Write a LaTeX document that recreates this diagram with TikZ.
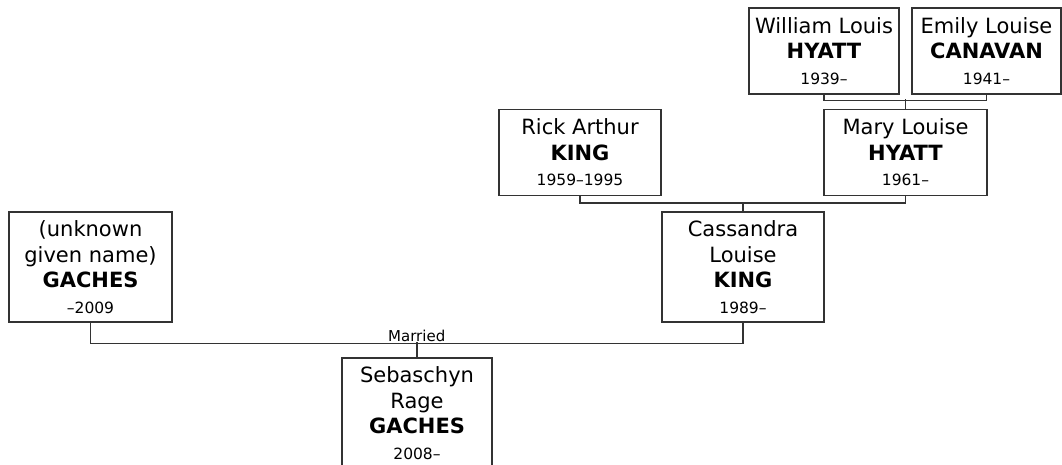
\documentclass[tikz,border=0pt]{standalone}
\usepackage{fontspec}
\setmainfont{DejaVu Sans}
\usepackage{tikz}
\usetikzlibrary{positioning}

\newcommand{\yrs}[1]{{\fontsize{15.5}{19}\selectfont #1}}

\begin{document}
\begin{tikzpicture}[x=1pt, y=-1pt,
  person/.style={draw=black!80, line width=1.1pt, minimum width=162pt, minimum height=86pt, align=center, inner sep=2pt, font=\fontsize{21}{25.5}\selectfont},
  tall/.style={person, minimum height=110pt},
  link/.style={draw=black!80, line width=1.3pt}
]
\useasboundingbox (0,0) rectangle (1062,464);

% grandparents
\node[person, minimum width=150pt] (william) at (824,51) {William Louis\\\textbf{HYATT}\\\yrs{1939--}};
\node[person, minimum width=149pt] (emily) at (986.5,51) {Emily Louise\\\textbf{CANAVAN}\\\yrs{1941--}};

% parents
\node[person, minimum width=163pt] (mary) at (905.5,152.5) {Mary Louise\\\textbf{HYATT}\\\yrs{1961--}};
\node[person] (rick) at (580,152.5) {Rick Arthur\\\textbf{KING}\\\yrs{1959--1995}};

% couple
\node[tall] (cassandra) at (743,267) {Cassandra\\Louise\\\textbf{KING}\\\yrs{1989--}};
\node[tall, minimum width=163pt] (unknown) at (90.5,267) {(unknown\\given name)\\\textbf{GACHES}\\\yrs{--2009}};

% child
\node[tall, minimum width=150pt] (sebaschyn) at (417,413) {Sebaschyn\\Rage\\\textbf{GACHES}\\\yrs{2008--}};

\draw[link] (william.south) -- ++(0,6) -| (emily.south);
\draw[link] (mary.north) -- ++(0,-10);
\draw[link] (rick.south) -- ++(0,7) -| (mary.south);
\draw[link] (cassandra.north) -- ++(0,-9);
\draw[link] (unknown.south) -- ++(0,21) -| (cassandra.south)
  node[pos=0.25, above, inner sep=1.5pt, font=\fontsize{15}{18}\selectfont] (married) {Married};
\draw[link] (sebaschyn.north) -- ++(0,-15);
\end{tikzpicture}
\end{document}
